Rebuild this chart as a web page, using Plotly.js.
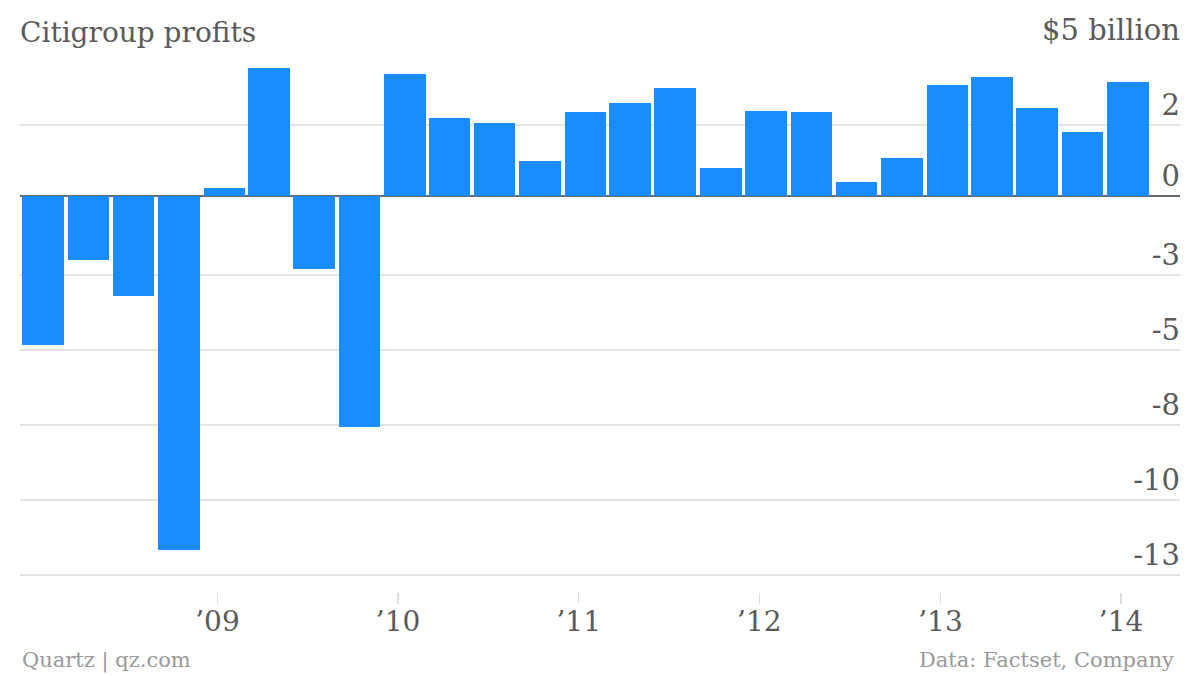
<!DOCTYPE html>
<html><head><meta charset="utf-8">
<script src="https://cdn.plot.ly/plotly-3.0.1.min.js"></script>
<style>html,body{margin:0;padding:0;background:#fff}#chart{width:1200px;height:676px}</style>
</head><body><div id="chart"></div>
<script>
// Quarterly profits, $ billion (dates as plotted)
const quarters = [
  "2008-01-15","2008-04-15","2008-07-15","2008-10-15",
  "2009-01-15","2009-04-15","2009-07-15","2009-10-15",
  "2010-01-15","2010-04-15","2010-07-15","2010-10-15",
  "2011-01-15","2011-04-15","2011-07-15","2011-10-15",
  "2012-01-15","2012-04-15","2012-07-15","2012-10-15",
  "2013-01-15","2013-04-15","2013-07-15","2013-10-15",
  "2014-01-15"
];
const profits = [
  -4.98, -2.15, -3.33, -11.82,
   0.25,  4.26, -2.44,  -7.70,
   4.06,  2.60,  2.41,   1.15,
   2.79,  3.09,  3.58,   0.91,
   2.82,  2.79,  0.46,   1.25,
   3.68,  3.95,  2.91,   2.12,
   3.78
];
const yTickVals = [4.85, 2.35, 0, -2.65, -5.15, -7.65, -10.15, -12.65];
const yTickText = ["$5 billion", "2", "0", "-3", "-5", "-8", "-10", "-13"];
const xTickVals = ["2009-01-01","2010-01-01","2011-01-01","2012-01-01","2013-01-01","2014-01-01"];
const xTickText = ["\u201909","\u201910","\u201911","\u201912","\u201913","\u201914"];

const FONT = "DejaVu Serif, serif";
const DAY = 86400000;

const trace = {
  type: "bar",
  x: quarters,
  y: profits,
  width: quarters.map(() => 84 * DAY),
  marker: {color: "#198cff", line: {width: 0}},
  hoverinfo: "x+y"
};

const layout = {
  width: 1200, height: 676,
  margin: {l: 20, r: 20, t: 50, b: 84, pad: 0},
  paper_bgcolor: "#ffffff",
  plot_bgcolor: "#ffffff",
  showlegend: false,
  font: {family: FONT, color: "#5a5a5a"},
  title: {
    text: "Citigroup profits",
    font: {family: FONT, size: 28, color: "#5a5a5a"},
    xref: "container", x: 20/1200, xanchor: "left",
    yref: "container", y: 1 - 32/676, yanchor: "middle"
  },
  xaxis: {
    type: "date",
    range: ["2007-11-29", "2014-04-30"],
    tickmode: "array",
    tickvals: xTickVals,
    ticktext: xTickText,
    ticks: "outside",
    ticklen: 11,
    tickwidth: 1.5,
    tickcolor: "#dddddd",
    ticklabelstandoff: -7,
    showgrid: false,
    zeroline: false,
    showline: false,
    tickfont: {family: FONT, size: 28, color: "#5a5a5a"},
    fixedrange: true
  },
  yaxis: {
    range: [-(592 - 195.7) / 30, (195.7 - 50) / 30],
    side: "right",
    tickmode: "array",
    tickvals: yTickVals,
    ticktext: yTickText,
    ticks: "",
    ticklabelposition: "inside top",
    ticklabeloverflow: "allow",
    ticklabelstandoff: -3,
    showgrid: true,
    gridcolor: "#e4e4e4",
    gridwidth: 2,
    zeroline: true,
    zerolinecolor: "#6a6a6a",
    zerolinewidth: 2,
    showline: false,
    tickfont: {family: FONT, size: 29, color: "#5a5a5a"},
    fixedrange: true
  },
  bargap: 0,
  annotations: [
    {text: "Quartz | qz.com", xref: "paper", yref: "paper", x: 0, xanchor: "left",
     y: 0, yshift: -68, yanchor: "middle", showarrow: false,
     font: {family: FONT, size: 21, color: "#999999"}},
    {text: "Data: Factset, Company", xref: "paper", yref: "paper", x: 1, xshift: -4, xanchor: "right",
     y: 0, yshift: -68, yanchor: "middle", showarrow: false,
     font: {family: FONT, size: 21, color: "#999999"}}
  ]
};

Plotly.newPlot("chart", [trace], layout, {displayModeBar: false, staticPlot: true});
</script>
</body></html>
